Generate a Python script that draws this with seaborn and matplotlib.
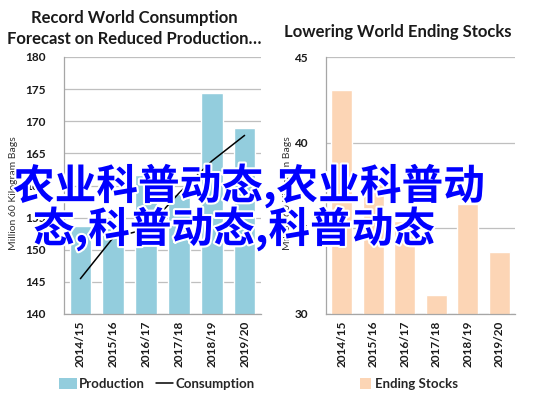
import numpy as np
import pandas as pd
import matplotlib
matplotlib.use("Agg")
import matplotlib.pyplot as plt
import matplotlib.patheffects as pe
from matplotlib.patches import Patch
from matplotlib.lines import Line2D
import seaborn as sns

# data (million 60 kg bags)
seasons = ["2014/15", "2015/16", "2016/17", "2017/18", "2018/19", "2019/20"]
production = [153.7, 153.4, 161.6, 158.7, 174.4, 169.0]
consumption = [145.5, 151.9, 153.2, 158.8, 163.8, 167.8]
ending_stocks = [43.1, 37.6, 35.4, 31.1, 36.4, 33.6]

left_ticks = [140, 145, 150, 155, 160, 165, 170, 175, 180]
right_ticks = [30, 35, 40, 45]

blue = "#93CDDD"
peach = "#FCD5B5"
grid_c = "#BFBFBF"
txt_c = "#1A1A1A"

sns.set_style("white")
plt.rcParams["font.family"] = ["Lato", "DejaVu Sans"]

df = pd.DataFrame({"season": seasons, "production": production,
                   "consumption": consumption, "stocks": ending_stocks})

W, H = 537, 399
fig = plt.figure(figsize=(W / 100, H / 100), dpi=100)


def box(x0, y0, x1, y1):
    return [x0 / W, 1 - y1 / H, (x1 - x0) / W, (y1 - y0) / H]


ax1 = fig.add_axes(box(64, 57, 261, 314))
ax2 = fig.add_axes(box(326, 57, 515, 314))

sns.barplot(data=df, x="season", y="production", color=blue, width=0.66,
            saturation=1, ax=ax1, zorder=2)
sns.pointplot(data=df, x="season", y="consumption", color="black", markers="",
              linestyles="-", ax=ax1, zorder=3)
for l in ax1.lines:
    l.set_linewidth(1.1)

sns.barplot(data=df, x="season", y="stocks", color=peach, width=0.66,
            saturation=1, ax=ax2, zorder=2)


def style(ax, ticks, label, labx):
    ax.set_ylim(ticks[0], ticks[-1])
    ax.set_xlim(-0.5, 5.5)
    ax.set_yticks(ticks)
    ax.yaxis.grid(True, color=grid_c, lw=0.9, zorder=0)
    ax.set_axisbelow(True)
    for s in ["top", "right"]:
        ax.spines[s].set_visible(False)
    for s in ["left", "bottom"]:
        ax.spines[s].set_color("#A6A6A6")
        ax.spines[s].set_linewidth(0.9)
    ax.set_xticks(range(len(seasons)))
    ax.set_xticklabels(seasons, rotation=90, fontsize=8.5, fontweight="bold", color=txt_c)
    ax.set_xticks(np.arange(-0.5, len(seasons), 1), minor=True)
    ax.tick_params(axis="x", which="major", length=0, pad=5)
    ax.tick_params(axis="x", which="minor", length=4, color="#A6A6A6", direction="out")
    ax.tick_params(axis="y", length=4, color="#A6A6A6", direction="out", pad=9,
                   labelsize=8.5)
    for t in ax.get_yticklabels():
        t.set_fontweight("bold")
        t.set_color(txt_c)
    ax.set_xlabel("")
    ax.set_ylabel(label, fontsize=7.5, color="#333333")
    ax.yaxis.set_label_coords(labx, 0.47)


style(ax1, left_ticks, "Million 60 Kilogram Bags", -0.235)
style(ax2, right_ticks, "Million 60 Kilogram Bags", -0.18)

# titles
fig.text(134 / W, 1 - 18 / H, "Record World Consumption", ha="center", va="center",
         fontsize=12, fontweight="bold", color=txt_c)
fig.text(134 / W, 1 - 39 / H, "Forecast on Reduced Production\u2026", ha="center",
         va="center", fontsize=12, fontweight="bold", color=txt_c)
fig.text(398 / W, 1 - 32 / H, "Lowering World Ending Stocks", ha="center",
         va="center", fontsize=12, fontweight="bold", color=txt_c)

# legends
h1 = [Patch(facecolor=blue, edgecolor="none"), Line2D([], [], color="black", lw=1.1)]
fig.legend(h1, ["Production", "Consumption"], loc="center", bbox_to_anchor=(157 / W, 1 - 384 / H),
           ncol=2, frameon=False, prop={"weight": "bold", "size": 9.5},
           handlelength=1.3, handletextpad=0.2, columnspacing=0.8, handleheight=0.9)
fig.legend([Patch(facecolor=peach, edgecolor="none")], ["Ending Stocks"], loc="center",
           bbox_to_anchor=(409 / W, 1 - 384 / H), frameon=False,
           prop={"weight": "bold", "size": 9.5}, handlelength=0.9, handletextpad=0.3,
           handleheight=0.9)

# overlay text
cjk = ["Noto Sans CJK SC", "DejaVu Sans"]
halo = [pe.withStroke(linewidth=3, foreground="white")]
fig.text(13 / W, 1 - 186 / H, "农业科普动态,农业科普动", ha="left", va="center",
         fontsize=30, fontweight="bold", color="#0000FF", family=cjk, path_effects=halo)
fig.text(33 / W, 1 - 229 / H, "态,科普动态,科普动态", ha="left", va="center",
         fontsize=30, fontweight="bold", color="#0000FF", family=cjk, path_effects=halo)

fig.savefig("out.png", dpi=100)
